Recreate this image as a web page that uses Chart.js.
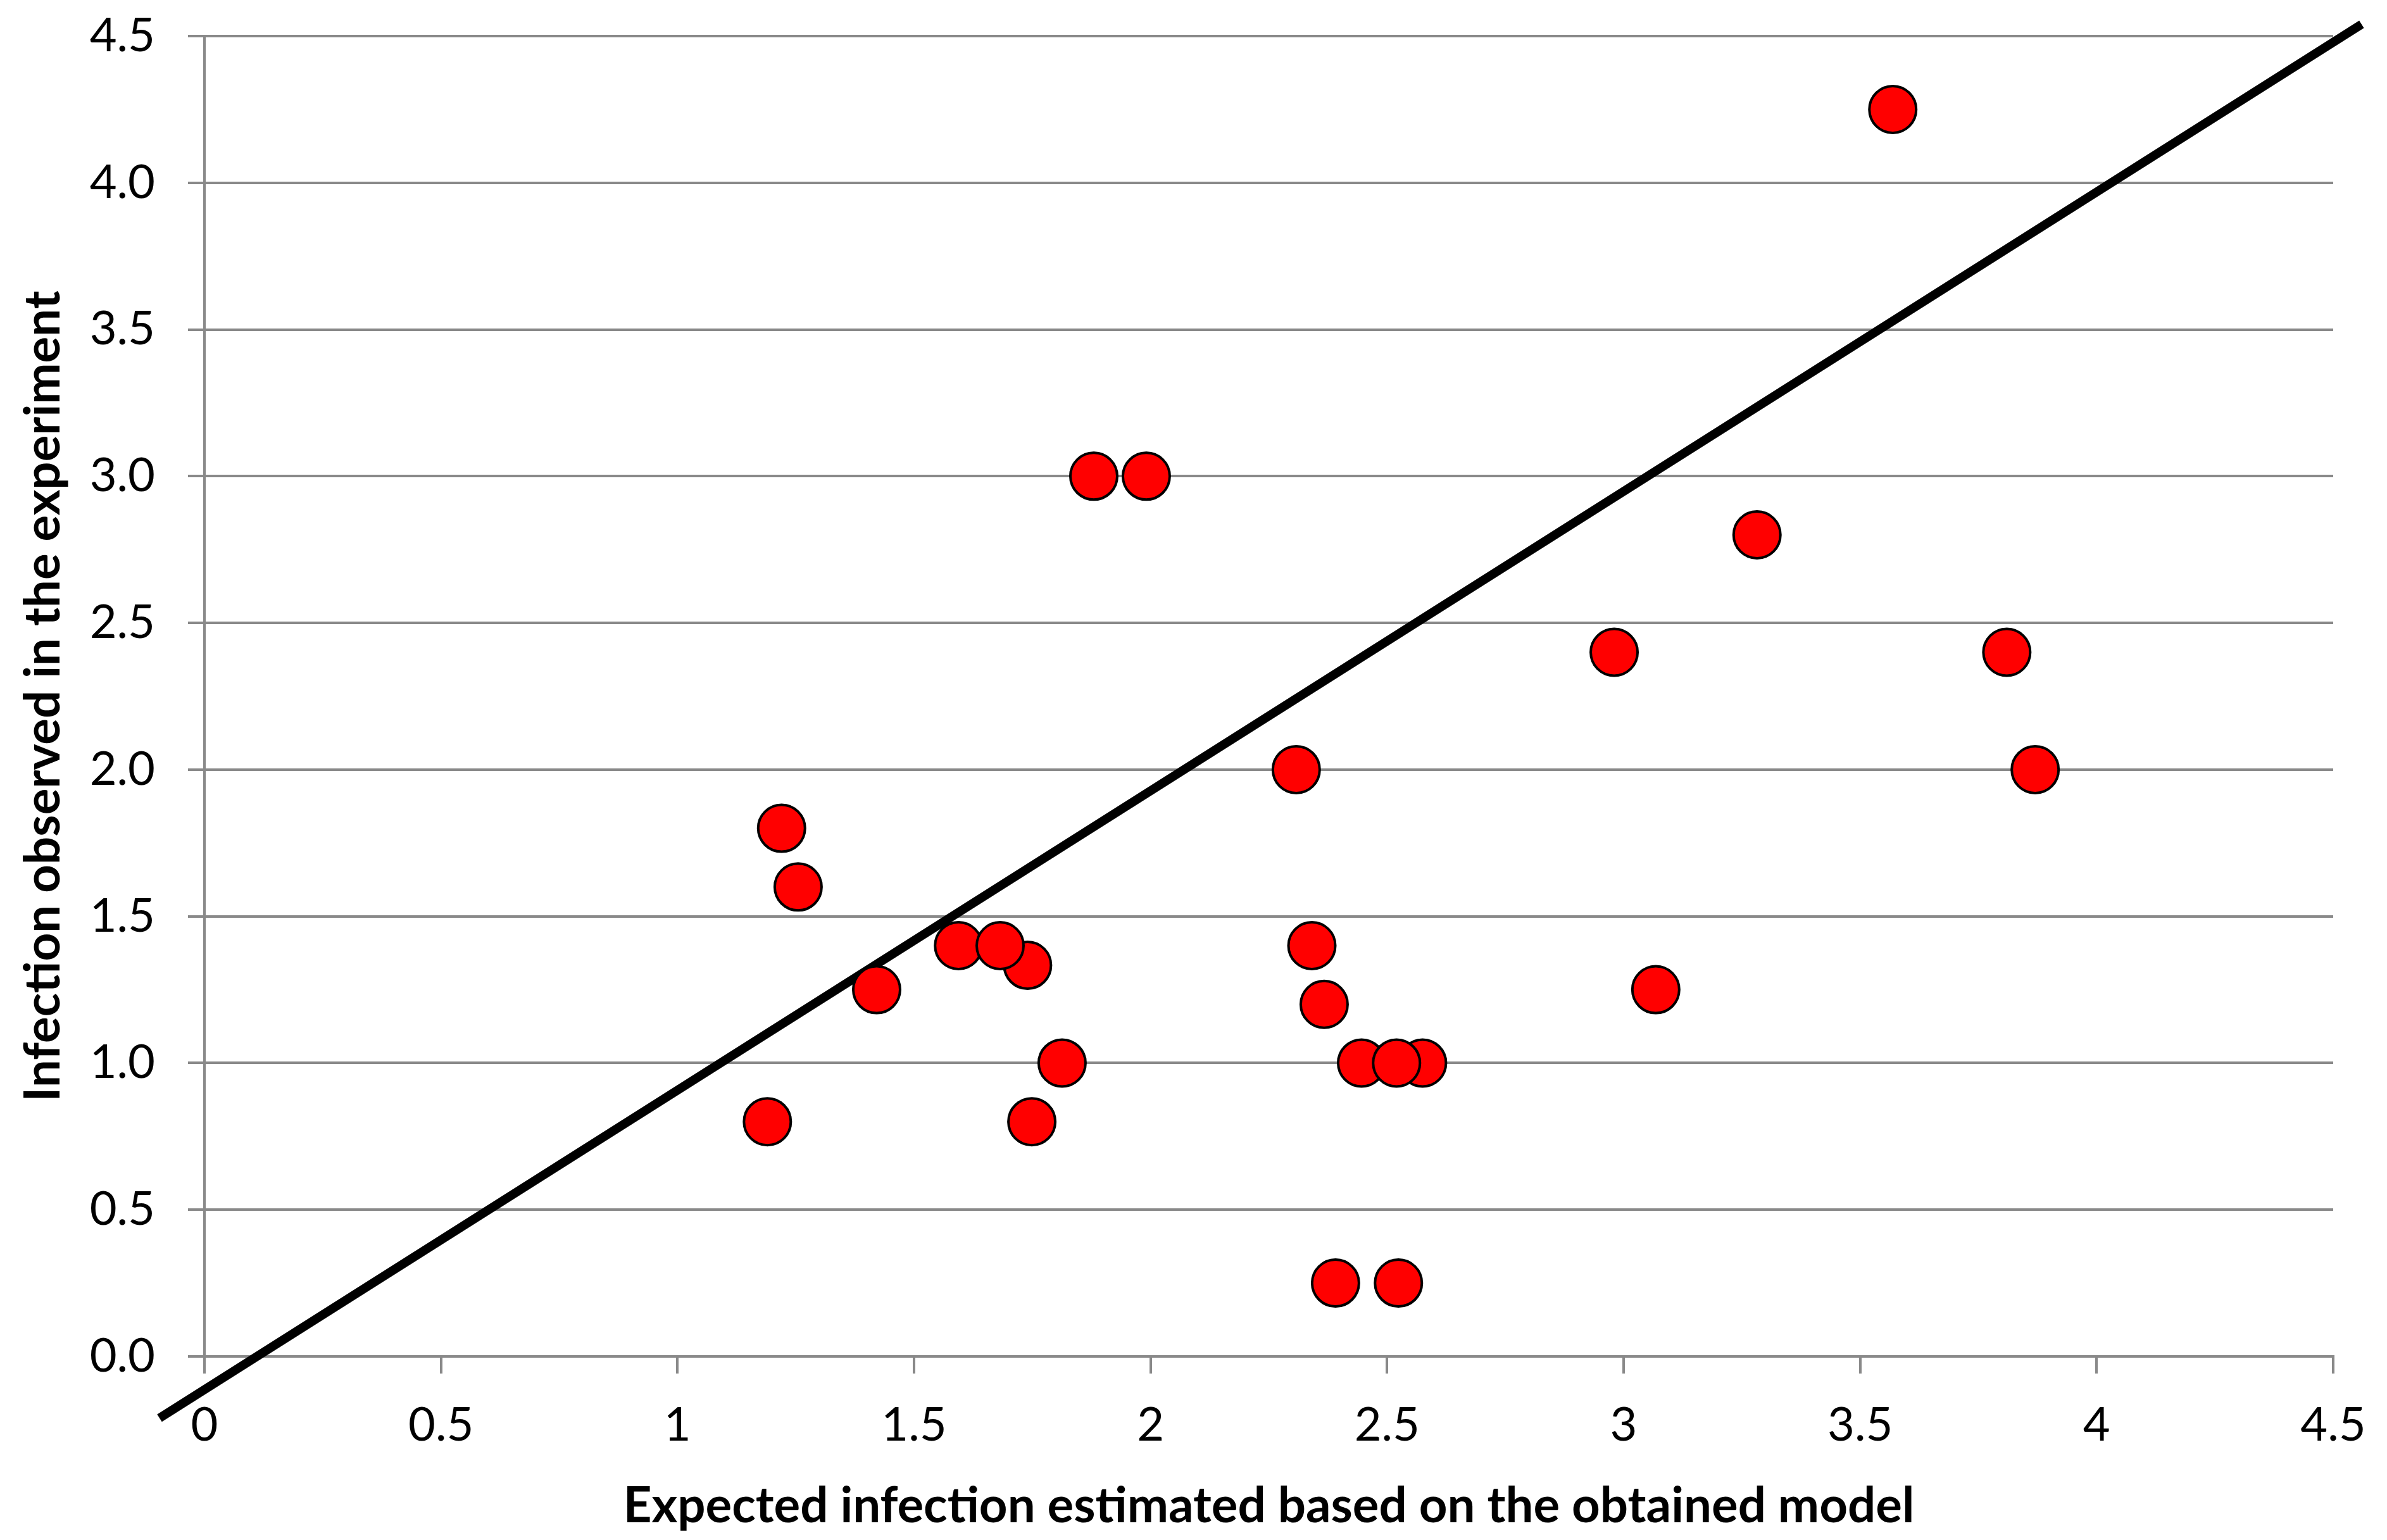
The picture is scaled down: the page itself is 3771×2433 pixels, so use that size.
<!DOCTYPE html>
<html>
<head>
<meta charset="utf-8">
<script src="https://cdn.jsdelivr.net/npm/chart.js@4/dist/chart.umd.min.js"></script>
<style>
html,body{margin:0;padding:0;background:#fff;}
canvas{display:block;}
</style>
</head>
<body>
<canvas id="c" width="3771" height="2433"></canvas>
<script>
// Data
const expectedX = [1.19, 1.22, 1.255, 1.421, 1.594, 1.740, 1.682, 1.813, 1.749,
                   1.880, 1.991, 2.308, 2.341, 2.367, 2.391, 2.446, 2.575, 2.520, 2.524,
                   2.980, 3.068, 3.282, 3.569, 3.810, 3.870];
const observedY = [0.80, 1.80, 1.60, 1.25, 1.40, 1.333, 1.40, 1.00, 0.80,
                   3.00, 3.00, 2.00, 1.40, 1.20, 0.25, 1.00, 1.00, 1.00, 0.25,
                   2.40, 1.25, 2.80, 4.25, 2.40, 2.00];
const fitLineX = [-0.095, 4.56];
const fitLineY = [-0.21, 4.54];
const xTickLabels = ['0','0.5','1','1.5','2','2.5','3','3.5','4','4.5'];
const yTickLabels = ['0.0','0.5','1.0','1.5','2.0','2.5','3.0','3.5','4.0','4.5'];
const xTitle = 'Expected infection estimated based on the obtained model';
const yTitle = 'Infection observed in the experiment';

const pts = expectedX.map((x, i) => ({x: x, y: observedY[i]}));
const linePts = fitLineX.map((x, i) => ({x: x, y: fitLineY[i]}));

const GRID = '#898989';
const tickFont = {family: 'Lato', size: 74, weight: 'normal'};
const titleFont = {family: 'Lato', size: 78, weight: 'bold'};

new Chart(document.getElementById('c'), {
  type: 'scatter',
  data: {
    datasets: [
      {
        type: 'scatter',
        data: pts,
        pointRadius: 37,
        pointHoverRadius: 37,
        pointBackgroundColor: '#ff0000',
        pointBorderColor: '#000000',
        pointBorderWidth: 4,
        order: 0
      },
      {
        type: 'line',
        data: linePts,
        borderColor: '#000000',
        borderWidth: 14,
        pointRadius: 0,
        fill: false,
        clip: false,
        borderCapStyle: 'butt',
        order: 1
      }
    ]
  },
  options: {
    responsive: false,
    devicePixelRatio: 1,
    animation: false,
    layout: {padding: {left: 0, top: 57, right: 85, bottom: 0}},
    plugins: {legend: {display: false}, tooltip: {enabled: false}},
    scales: {
      x: {
        type: 'linear',
        min: 0, max: 4.5,
        afterFit: s => { s.height = 290; s.paddingLeft = 0; s.paddingRight = 0; },
        ticks: {
          stepSize: 0.5,
          color: '#000',
          font: tickFont,
          padding: 38,
          maxRotation: 0,
          callback: (v, i) => xTickLabels[i]
        },
        grid: {display: true, drawOnChartArea: false, drawTicks: true, tickLength: 27, color: GRID, lineWidth: 4},
        border: {display: true, color: GRID, width: 4},
        title: {display: true, text: xTitle, color: '#000', font: titleFont, padding: {top: 0, bottom: 6}}
      },
      y: {
        type: 'linear',
        min: 0, max: 4.5,
        afterFit: s => { s.width = 323; s.paddingTop = 0; s.paddingBottom = 0; },
        ticks: {
          stepSize: 0.5,
          color: '#000',
          font: tickFont,
          padding: 52,
          callback: (v, i) => yTickLabels[i]
        },
        grid: {display: true, drawTicks: true, tickLength: 26, color: GRID, lineWidth: 4},
        border: {display: true, color: GRID, width: 4},
        title: {display: true, text: yTitle, color: '#000', font: titleFont, padding: {top: 22, bottom: 0}}
      }
    }
  }
});
</script>
</body>
</html>
